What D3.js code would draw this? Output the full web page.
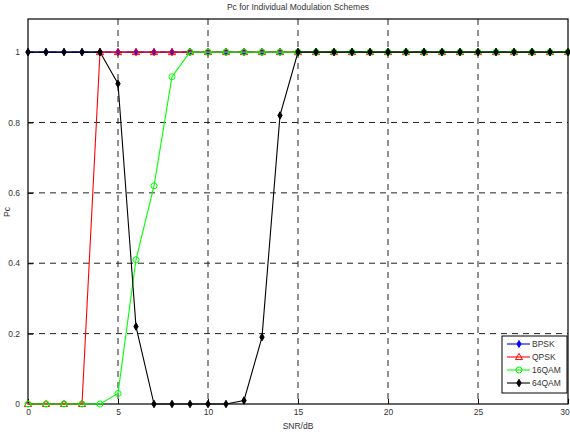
<!DOCTYPE html>
<html><head><meta charset="utf-8">
<script src="https://cdn.jsdelivr.net/npm/d3@7"></script>
<style>body{margin:0;background:#fff}svg{display:block}text{font-family:"Liberation Sans Narrow","Liberation Sans",Arial,sans-serif;fill:#333}</style>
</head><body>
<script>
const snr = d3.range(0, 31);
const bpsk = snr.map(()=>1);
const qpsk = [0,0,0,0,1,1,1,1,1,1,1,1,1,1,1,1,1,1,1,1,1,1,1,1,1,1,1,1,1,1,1];
const qam16 = [0,0,0,0,0,0.03,0.41,0.62,0.93,1,1,1,1,1,1,1,1,1,1,1,1,1,1,1,1,1,1,1,1,1,1];
const qam64 = [1,1,1,1,1,0.91,0.22,0,0,0,0,0,0.01,0.19,0.82,1,1,1,1,1,1,1,1,1,1,1,1,1,1,1,1];
const xTicks = [0,5,10,15,20,25,30];
const yTicks = [0,0.2,0.4,0.6,0.8,1];
const seriesNames = ["BPSK","QPSK","16QAM","64QAM"];
const seriesColors = ["#0000ff","#ff0000","#00ff00","#000000"];
const seriesData = [bpsk,qpsk,qam16,qam64];

const W=570,H=432;
const L=28,R=568,T=19,B=404;
const svg=d3.select("body").append("svg").attr("width",W).attr("height",H);
const x=d3.scaleLinear().domain([0,30]).range([L,R]);
const y=d3.scaleLinear().domain([0,1.094]).range([B,T]);

// grid
const g=svg.append("g");
xTicks.filter(v=>v>0&&v<30).forEach(v=>{
  g.append("line").attr("x1",x(v)).attr("x2",x(v)).attr("y1",T).attr("y2",B)
   .attr("stroke","#222").attr("stroke-width",1).attr("stroke-dasharray","6,5");
});
yTicks.filter(v=>v>0).forEach(v=>{
  g.append("line").attr("x1",L).attr("x2",R).attr("y1",y(v)).attr("y2",y(v))
   .attr("stroke","#222").attr("stroke-width",1).attr("stroke-dasharray","6,5");
});

// axes
const ax=svg.append("g").attr("transform",`translate(0,${B})`)
 .call(d3.axisBottom(x).tickValues(xTicks).tickFormat(d3.format("d")).tickSizeInner(-5).tickSizeOuter(0).tickPadding(5));
const ay=svg.append("g").attr("transform",`translate(${L},0)`)
 .call(d3.axisLeft(y).tickValues(yTicks).tickFormat(d=>d===0?"0":d===1?"1":d3.format(".1f")(d)).tickSizeInner(-5).tickSizeOuter(0).tickPadding(8));
[ax,ay].forEach(a=>{a.select(".domain").remove();a.selectAll("line").attr("stroke","#000");a.selectAll("text").style("font-size","8.5px").attr("fill","#333");});
ax.selectAll(".tick").filter(d=>d===30).select("text").attr("dx","-3.5");
// frame
svg.append("rect").attr("x",L).attr("y",T).attr("width",R-L).attr("height",B-T).attr("fill","none").attr("stroke","#000").attr("stroke-width",1.2);

// series
const line=d3.line().x((d,i)=>x(snr[i])).y(d=>y(d));
function marker(sel,i,cx,cy){
  const c=seriesColors[i];
  if(i===0){sel.append("path").attr("d",d3.symbol(d3.symbolDiamond,14)()).attr("transform",`translate(${cx},${cy})`).attr("fill",c).attr("stroke",c);}
  else if(i===1){sel.append("path").attr("d",d3.symbol(d3.symbolTriangle,22)()).attr("transform",`translate(${cx},${cy+0.5})`).attr("fill","none").attr("stroke",c).attr("stroke-width",1);}
  else if(i===2){sel.append("circle").attr("cx",cx).attr("cy",cy).attr("r",3).attr("fill","none").attr("stroke",c).attr("stroke-width",1);}
  else {sel.append("path").attr("d",d3.symbol(d3.symbolDiamond,16)()).attr("transform",`translate(${cx},${cy})`).attr("fill",c).attr("stroke",c);}
}
seriesData.forEach((data,i)=>{
  const sg=svg.append("g");
  sg.append("path").datum(data).attr("d",line).attr("fill","none").attr("stroke",seriesColors[i]).attr("stroke-width",1.1);
  data.forEach((d,j)=>marker(sg,i,x(snr[j]),y(d)));
});

// legend
const lg=svg.append("g");
lg.append("rect").attr("x",502).attr("y",336).attr("width",65).attr("height",57).attr("fill","#fff").attr("stroke","#000").attr("stroke-width",1);
seriesNames.forEach((n,i)=>{
  const ly=344+i*13;
  lg.append("line").attr("x1",507).attr("x2",530).attr("y1",ly).attr("y2",ly).attr("stroke",seriesColors[i]).attr("stroke-width",1.1);
  marker(lg,i,519,ly);
  lg.append("text").attr("x",532).attr("y",ly+3).text(n).style("font-size","8.5px");
});

// titles
svg.append("text").attr("x",298).attr("y",10).attr("text-anchor","middle").style("font-size","8.5px").text("Pc for Individual Modulation Schemes");
svg.append("text").attr("x",298).attr("y",429).attr("text-anchor","middle").style("font-size","8.5px").text("SNR/dB");
svg.append("text").attr("transform","translate(10,212) rotate(-90)").attr("text-anchor","middle").style("font-size","8.5px").text("Pc");
</script>
</body></html>
